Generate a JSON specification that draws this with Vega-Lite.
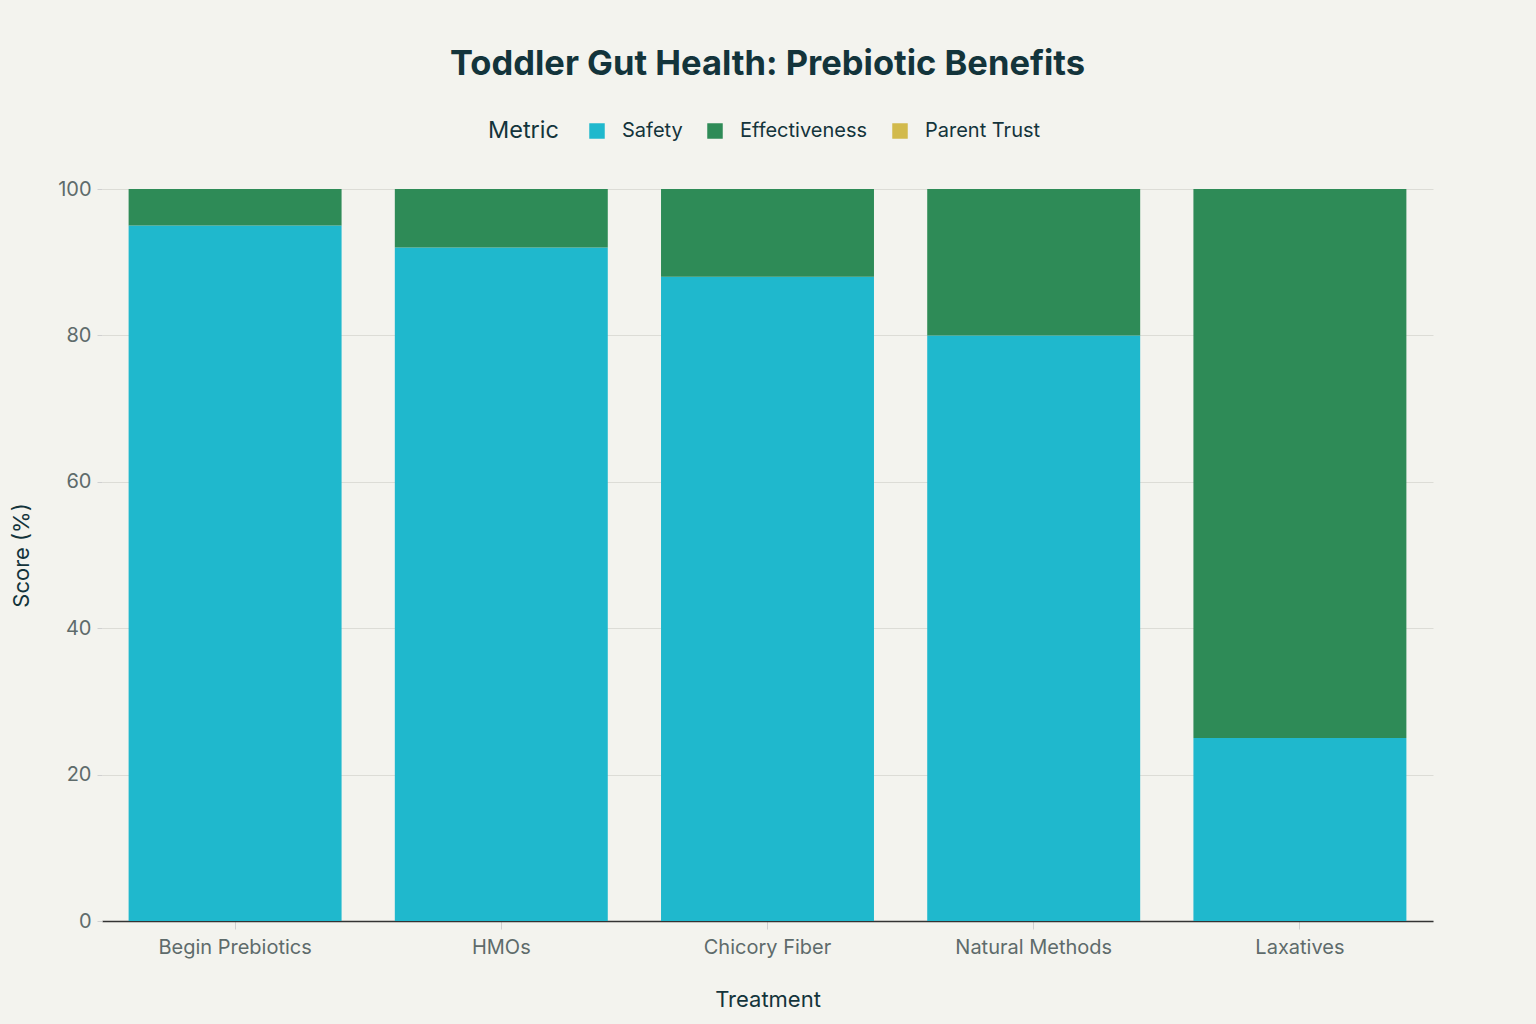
{
  "$schema": "https://vega.github.io/schema/vega-lite/v6.json",
  "width": 1331,
  "height": 732,
  "autosize": {"type": "none"},
  "padding": {"left": 102, "top": 189, "right": 103, "bottom": 103},
  "background": "#F3F3EE",
  "config": {"view": {"stroke": null}},
  "title": {
    "text": "Toddler Gut Health: Prebiotic Benefits",
    "font": "Inter",
    "fontSize": 34.5,
    "fontWeight": "bold",
    "color": "#13343B",
    "anchor": "middle",
    "offset": 39
  },
  "data": {
    "values": [
      {"Treatment": "Begin Prebiotics", "Metric": "Safety", "Score": 95},
      {"Treatment": "Begin Prebiotics", "Metric": "Effectiveness", "Score": 5},
      {"Treatment": "HMOs", "Metric": "Safety", "Score": 92},
      {"Treatment": "HMOs", "Metric": "Effectiveness", "Score": 8},
      {"Treatment": "Chicory Fiber", "Metric": "Safety", "Score": 88},
      {"Treatment": "Chicory Fiber", "Metric": "Effectiveness", "Score": 12},
      {"Treatment": "Natural Methods", "Metric": "Safety", "Score": 80},
      {"Treatment": "Natural Methods", "Metric": "Effectiveness", "Score": 20},
      {"Treatment": "Laxatives", "Metric": "Safety", "Score": 25},
      {"Treatment": "Laxatives", "Metric": "Effectiveness", "Score": 75}
    ]
  },
  "mark": {"type": "bar"},
  "encoding": {
    "x": {
      "field": "Treatment",
      "type": "nominal",
      "sort": ["Begin Prebiotics", "HMOs", "Chicory Fiber", "Natural Methods", "Laxatives"],
      "scale": {"paddingInner": 0.2, "paddingOuter": 0.1},
      "axis": {
        "title": "Treatment",
        "labelAngle": 0,
        "labelFont": "Inter",
        "labelFontSize": 20,
        "labelColor": "#5E6B6B",
        "labelPadding": 8,
        "titleFont": "Inter",
        "titleFontSize": 22,
        "titleFontWeight": "normal",
        "titleColor": "#13343B",
        "titlePadding": 32,
        "domainColor": "#333333",
        "domainWidth": 1.5,
        "tickColor": "#D0D0D0",
        "tickSize": 8,
        "grid": false
      }
    },
    "y": {
      "field": "Score",
      "type": "quantitative",
      "stack": "zero",
      "scale": {"domain": [0, 100], "nice": false},
      "axis": {
        "title": "Score (%)",
        "values": [0, 20, 40, 60, 80, 100],
        "labelFont": "Inter",
        "labelFontSize": 20,
        "labelColor": "#5E6B6B",
        "labelPadding": 6,
        "titleFont": "Inter",
        "titleFontSize": 22,
        "titleFontWeight": "normal",
        "titleColor": "#13343B",
        "titlePadding": 24,
        "domain": false,
        "tickColor": "#D0D0D0",
        "tickSize": 5,
        "gridColor": "#DCDCD6",
        "gridWidth": 1
      }
    },
    "color": {
      "field": "Metric",
      "type": "nominal",
      "scale": {
        "domain": ["Safety", "Effectiveness", "Parent Trust"],
        "range": ["#1FB8CD", "#2E8B57", "#D2BA4C"]
      },
      "legend": {
        "orient": "none",
        "direction": "horizontal",
        "legendX": 386,
        "legendY": -68,
        "titleOrient": "left",
        "title": "Metric",
        "titleFont": "Inter",
        "titleFontSize": 23.5,
        "titleFontWeight": "normal",
        "titleColor": "#13343B",
        "titlePadding": 28,
        "labelFont": "Inter",
        "labelFontSize": 20,
        "labelColor": "#13343B",
        "labelOffset": 15,
        "symbolType": "square",
        "symbolSize": 240,
        "symbolStrokeWidth": 0,
        "columnPadding": 22
      }
    },
    "order": {"field": "Metric", "sort": "descending"}
  }
}
